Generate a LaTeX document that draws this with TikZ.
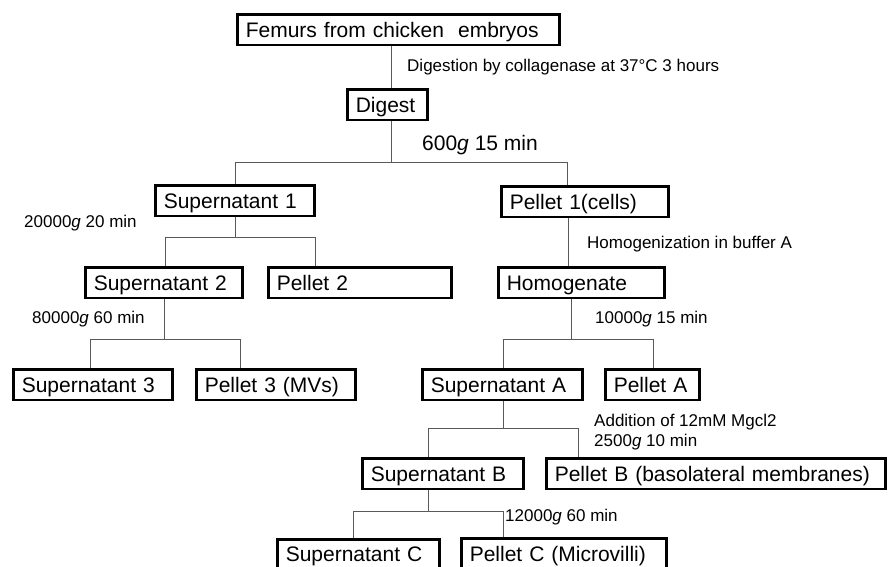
\documentclass[tikz,border=0pt]{standalone}
\usepackage{fontspec}
\setmainfont{Liberation Sans}

\begin{document}
\begin{tikzpicture}[x=1pt,y=-1pt,
  box/.style={draw,line width=2.7pt,anchor=north west,minimum height=30.3pt,
    inner xsep=8pt,inner ysep=0pt,text height=19pt,text depth=4pt,
    align=left,font=\fontsize{21}{24}\selectfont},
  link/.style={draw=black!65,line width=1pt},
  note/.style={anchor=west,inner sep=0pt,align=left,font=\fontsize{17}{20}\selectfont}]
\path[use as bounding box] (0,0) rectangle (890,566);
\clip (0,0) rectangle (890,566);

% boxes
\node[box,text width=306pt] (femurs) at (236.4,13.4) {Femurs from chicken\ \ embryos};
\node[box,text width=64pt] (digest) at (346.4,88.4) {Digest};
\node[box,text width=143pt] (sup1) at (154.4,184.4) {Supernatant 1};
\node[box,text width=151pt] (pel1) at (500.4,185.4) {Pellet 1(cells)};
\node[box,text width=141pt] (sup2) at (84.4,266.4) {Supernatant 2};
\node[box,text width=167pt] (pel2) at (267.4,266.4) {Pellet 2};
\node[box,text width=150pt] (homog) at (497.4,266.4) {Homogenate};
\node[box,text width=143pt] (sup3) at (12.4,368.4) {Supernatant 3};
\node[box,text width=143pt] (pel3) at (195.4,368.4) {Pellet 3 (MVs)};
\node[box,text width=144pt] (supA) at (421.4,368.4) {Supernatant A};
\node[box,text width=78pt] (pelA) at (604.4,368.4) {Pellet A};
\node[box,text width=145pt] (supB) at (361.4,457.4) {Supernatant B};
\node[box,text width=323pt] (pelB) at (545.4,457.4) {Pellet B (basolateral\ membranes)};
\node[box,text width=146pt] (supC) at (276.4,537.9) {Supernatant C};
\node[box,text width=189pt] (pelC) at (460.4,537.4) {Pellet C (Microvilli)};

% split points of the tree
\coordinate (a) at (391,45);
\coordinate (b1l) at (235,162);  \coordinate (b1r) at (567,162);
\coordinate (b2l) at (165,237);  \coordinate (b2r) at (315,237);
\coordinate (c) at (568,217);
\coordinate (b3l) at (90,339);   \coordinate (b3r) at (240,339);
\coordinate (b4l) at (503,339);  \coordinate (b4r) at (653,339);
\coordinate (b5l) at (428,428);  \coordinate (b5r) at (578,428);
\coordinate (b6l) at (353,511);  \coordinate (b6r) at (503,511);

% connectors
\draw[link] (a |- femurs.south) -- (a |- digest.north);
\draw[link] (a |- digest.south) -- (a |- b1l);
\draw[link] (b1l |- sup1.north) -- (b1l) -- (b1r) -- (b1r |- pel1.north);
\draw[link] (sup1.south) -- (sup1.south |- b2l);
\draw[link] (b2l |- sup2.north) -- (b2l) -- (b2r) -- (b2r |- pel2.north);
\draw[link] (c |- pel1.south) -- (c |- homog.north);
\draw[link] (164,0 |- sup2.south) -- (164,0 |- b3l);
\draw[link] (b3l |- sup3.north) -- (b3l) -- (b3r) -- (b3r |- pel3.north);
\draw[link] (571,0 |- homog.south) -- (571,0 |- b4l);
\draw[link] (b4l |- supA.north) -- (b4l) -- (b4r) -- (b4r |- pelA.north);
\draw[link] (b4l |- supA.south) -- (b4l |- b5l);
\draw[link] (b5l |- supB.north) -- (b5l) -- (b5r) -- (b5r |- pelB.north);
\draw[link] (b5l |- supB.south) -- (b5l |- b6l);
\draw[link] (b6l |- supC.north) -- (b6l) -- (b6r) -- (b6r |- pelC.north);

% conditions
\node[note] (n1) at (407,67) {Digestion by collagenase at 37°C 3 hours};
\node[note,font=\fontsize{21}{24}\selectfont] (n2) at (422,145) {600\textit{g} 15 min};
\node[note] (n3) at (24,223) {20000\textit{g} 20 min};
\node[note] (n4) at (587,244) {Homogenization in buffer A};
\node[note] (n5) at (32,319) {80000\textit{g} 60 min};
\node[note] (n6) at (595,319) {10000\textit{g} 15 min};
\node[note] (n7) at (594,432) {Addition of 12mM Mgcl2\\2500\textit{g} 10 min};
\node[note] (n8) at (505,517) {12000\textit{g} 60 min};
\end{tikzpicture}
\end{document}
